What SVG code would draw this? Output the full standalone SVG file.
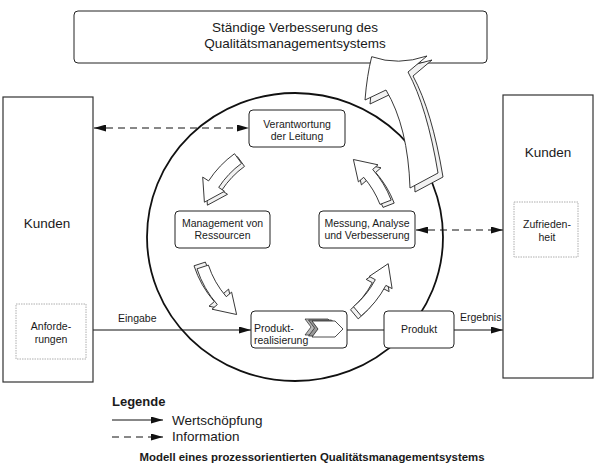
<svg xmlns="http://www.w3.org/2000/svg" width="595" height="468" viewBox="0 0 595 468">
<defs>
<style>
text{font-family:"Liberation Sans",Arial,sans-serif;fill:#1a1a1a}
.node{fill:#fff;stroke:#222;stroke-width:1}
.cust{fill:#fff;stroke:#333;stroke-width:1.2}
.sub{fill:#fff;stroke:#999;stroke-width:0.8;stroke-dasharray:1.5 1}
.lbl{font-size:10.5px;text-anchor:middle}
.flow{stroke:#111;stroke-width:1;fill:none}
.info{stroke:#111;stroke-width:1;fill:none;stroke-dasharray:7 5}
.arr{fill:#fff;stroke:#222;stroke-width:0.9;stroke-linejoin:round}
.arrb{fill:#f2f2f2;stroke:#222;stroke-width:0.9;stroke-linejoin:round}
</style>
<marker id="ah" viewBox="0 0 12 7" refX="12" refY="3.5" markerWidth="12" markerHeight="7" markerUnits="userSpaceOnUse" orient="auto-start-reverse">
<path d="M0,0 L12,3.5 L0,7 z" fill="#111"/>
</marker>
<path id="a1" d="M234.5,153.7 A103,103 0 0 0 208.6,180.9 L202.7,177.1 L204.4,202.2 L224.5,191.3 L218.7,187.4 A91,91 0 0 1 241.5,163.4 Z"/>
<path id="a2" d="M197.0,268.8 A103,103 0 0 0 217.3,304.6 L212.0,309.2 L236.6,314.5 L231.6,292.1 L226.3,296.7 A91,91 0 0 1 208.4,265.1 Z"/>
<path id="a3" d="M361.2,315.9 A103,103 0 0 0 385.9,285.4 L392.1,288.6 L388.2,263.7 L369.2,276.4 L375.3,279.7 A91,91 0 0 1 353.5,306.7 Z"/>
<path id="a4" d="M391.2,200.1 A103,103 0 0 0 372.7,169.4 L378.0,164.8 L353.4,159.5 L358.4,181.9 L363.7,177.3 A91,91 0 0 1 380.0,204.4 Z"/>
<path id="big" d="M371.7,56.7 Q398,66 427,56 L408,72 Q427,107 438,173 L410,188 Q408,127 386,90 L365,100 Q367,75 371.7,56.7 Z"/>
<path id="chev" d="M312,321 L335,321 L343,329 L335,337 L312,337 L318,329 Z"/>
</defs>
<rect width="595" height="468" fill="#fff"/>

<g id="improvement">
<rect x="74" y="11" width="413" height="52" rx="4" class="node"/>
<text x="295" y="32" font-size="13.5" text-anchor="middle">Ständige Verbesserung des</text>
<text x="295" y="48" font-size="13.5" text-anchor="middle">Qualitätsmanagementsystems</text>
</g>

<g id="process-circle">
<ellipse cx="295" cy="237" rx="148" ry="144" fill="none" stroke="#111" stroke-width="1.8"/>
</g>

<g id="improvement-arrow">
<use href="#big" class="arrb" transform="translate(5,4)"/>
<use href="#big" class="arr"/>
</g>

<g id="cycle-arrows">
<use href="#a1" class="arrb" transform="translate(3,3)"/>
<use href="#a1" class="arr"/>
<use href="#a2" class="arrb" transform="translate(-3,-3)"/>
<use href="#a2" class="arr"/>
<use href="#a3" class="arrb" transform="translate(-3,3)"/>
<use href="#a3" class="arr"/>
<use href="#a4" class="arrb" transform="translate(3,3)"/>
<use href="#a4" class="arr"/>
</g>

<g id="connectors">
<line x1="86" y1="330" x2="251" y2="330" class="flow" marker-end="url(#ah)"/>
<line x1="347" y1="330" x2="384" y2="330" class="flow"/>
<line x1="454" y1="330" x2="503" y2="330" class="flow" marker-end="url(#ah)"/>
<line x1="94" y1="128" x2="249" y2="128" class="info" marker-start="url(#ah)" marker-end="url(#ah)"/>
<line x1="416" y1="230" x2="503" y2="230" class="info" marker-start="url(#ah)" marker-end="url(#ah)"/>
<text x="118" y="322" font-size="10.5">Eingabe</text>
<text x="460" y="321" font-size="10.5">Ergebnis</text>
</g>

<g id="kunden-left">
<rect x="3" y="97" width="90" height="285" class="cust"/>
<text x="47" y="228" font-size="13.5" text-anchor="middle">Kunden</text>
<rect x="16" y="304" width="70" height="55" class="sub"/>
<text x="51" y="330" class="lbl">Anforde-</text>
<text x="51" y="343" class="lbl">rungen</text>
</g>

<g id="kunden-right">
<rect x="503" y="95" width="90" height="283" class="cust"/>
<text x="548" y="157" font-size="13.5" text-anchor="middle">Kunden</text>
<rect x="514" y="202" width="64" height="55" class="sub"/>
<text x="547" y="228" class="lbl">Zufrieden-</text>
<text x="547" y="241" class="lbl">heit</text>
</g>

<g id="verantwortung">
<rect x="249" y="110" width="96" height="37" rx="4" class="node"/>
<text x="297" y="127.5" class="lbl">Verantwortung</text>
<text x="297" y="139.5" class="lbl">der Leitung</text>
</g>

<g id="management">
<rect x="175" y="211" width="95" height="37" rx="4" class="node"/>
<text x="222.5" y="227" class="lbl">Management von</text>
<text x="222.5" y="239" class="lbl">Ressourcen</text>
</g>

<g id="messung">
<rect x="319" y="211" width="96" height="37" rx="4" class="node"/>
<text x="367" y="227" class="lbl">Messung, Analyse</text>
<text x="367" y="239" class="lbl">und Verbesserung</text>
</g>

<g id="produktrealisierung">
<rect x="251" y="311" width="96" height="37" rx="4" class="node"/>
<use href="#chev" transform="translate(-7,-2)" fill="#bbb" stroke="#222" stroke-width="0.7"/>
<use href="#chev" transform="translate(-3.5,-1)" fill="#999" stroke="#222" stroke-width="0.7"/>
<use href="#chev" fill="#fff" stroke="#222" stroke-width="0.8"/>
<text x="254" y="332" font-size="10.5">Produkt-</text>
<text x="254" y="344" font-size="10.5">realisierung</text>
</g>

<g id="produkt">
<rect x="384" y="311" width="70" height="37" rx="4" class="node"/>
<text x="419" y="333" class="lbl">Produkt</text>
</g>

<g id="legend">
<text x="112" y="406" font-size="13" font-weight="bold">Legende</text>
<line x1="112" y1="420" x2="163" y2="420" class="flow" marker-end="url(#ah)"/>
<text x="172" y="424.5" font-size="13.5">Wertschöpfung</text>
<line x1="112" y1="437" x2="163" y2="437" class="info" stroke-dasharray="5 4" marker-end="url(#ah)"/>
<text x="172" y="441" font-size="13.5">Information</text>
<text x="312" y="461" font-size="11.4" font-weight="bold" text-anchor="middle">Modell eines prozessorientierten Qualitätsmanagementsystems</text>
</g>
</svg>
